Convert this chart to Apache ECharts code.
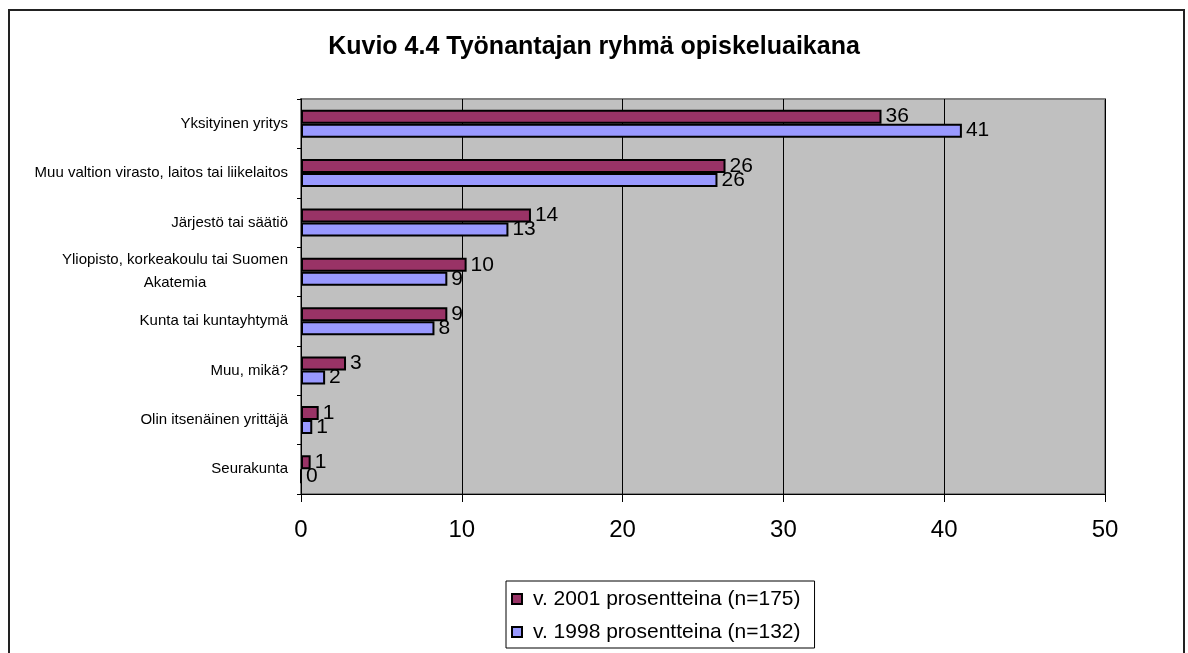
<!DOCTYPE html>
<html lang="fi">
<head>
    <meta charset="UTF-8">
    <title>Kuvio 4.4</title>
    <style>
        html, body { margin: 0; padding: 0; background: #fff; }
        #main { width: 1188px; height: 653px; }
    </style>
</head>
<body>

<div id="main"></div>

<script type="text/javascript" src="https://cdn.jsdelivr.net/npm/echarts@6/dist/echarts.min.js"></script>
<script type="text/javascript">

    // categories top to bottom
    var categories = [
        'Yksityinen yritys',
        'Muu valtion virasto, laitos tai liikelaitos',
        'Järjestö tai säätiö',
        'Yliopisto, korkeakoulu tai Suomen\nAkatemia',
        'Kunta tai kuntayhtymä',
        'Muu, mikä?',
        'Olin itsenäinen yrittäjä',
        'Seurakunta'
    ];
    var seriesNames = ['v. 2001 prosentteina (n=175)', 'v. 1998 prosentteina (n=132)'];
    var values2001 = [36.1, 26.4, 14.3, 10.3, 9.1, 2.8, 1.1, 0.6];
    var values1998 = [41.1, 25.9, 12.9, 9.1, 8.3, 1.5, 0.7, 0];
    var xTicks = [0, 10, 20, 30, 40, 50];

    var font = 'Arial, "Liberation Sans", sans-serif';
    var catFontSize = 15;

    // measure text so the wrapped label lines are centred under the longest one
    var ctx = document.createElement('canvas').getContext('2d');
    ctx.font = catFontSize + 'px ' + font;
    function lineWidth(s) { return Math.ceil(ctx.measureText(s).width); }

    var wrapWidth = 0;
    categories.forEach(function (c) {
        if (c.indexOf('\n') >= 0) {
            c.split('\n').forEach(function (s) { wrapWidth = Math.max(wrapWidth, lineWidth(s)); });
        }
    });

    var chart = echarts.init(document.getElementById('main'));

    function barSeries(name, data, color) {
        return {
            name: name,
            type: 'bar',
            data: data,
            barWidth: 14,
            barGap: '0%',
            itemStyle: { color: color, borderColor: '#000', borderWidth: 2 },
            label: {
                show: true,
                position: 'right',
                distance: 4,
                color: '#000',
                fontFamily: font,
                fontSize: 21,
                formatter: function (p) { return Math.round(p.value); }
            }
        };
    }

    chart.setOption({
        animation: false,
        textStyle: { fontFamily: font },
        title: {
            text: 'Kuvio 4.4 Työnantajan ryhmä opiskeluaikana',
            left: 'center',
            top: 30,
            textStyle: { fontFamily: font, fontSize: 25, fontWeight: 'bold', color: '#000' }
        },
        graphic: [{
            type: 'rect',
            shape: { x: 9, y: 10, width: 1175, height: 660 },
            style: { fill: 'none', stroke: '#222', lineWidth: 2 },
            z: -1
        }],
        legend: {
            orient: 'vertical',
            left: 506,
            top: 581,
            data: seriesNames,
            icon: 'rect',
            itemWidth: 10,
            itemHeight: 10,
            itemGap: 9,
            padding: [6, 14, 4, 5],
            borderColor: '#000',
            borderWidth: 1,
            textStyle: { fontFamily: font, fontSize: 21, color: '#000', lineHeight: 24, padding: [0, 0, 0, 6] }
        },
        grid: {
            left: 301,
            right: 83,
            top: 99,
            bottom: 159,
            show: true,
            backgroundColor: '#c0c0c0',
            borderColor: '#808080',
            borderWidth: 2
        },
        xAxis: {
            type: 'value',
            min: xTicks[0],
            max: xTicks[xTicks.length - 1],
            interval: 10,
            axisLine: { show: true, lineStyle: { color: '#000', width: 1 } },
            axisTick: { show: true, length: 8, lineStyle: { color: '#000' } },
            splitLine: { show: true, lineStyle: { color: '#000', width: 1 } },
            axisLabel: { color: '#000', fontFamily: font, fontSize: 24, margin: 24 }
        },
        yAxis: {
            type: 'category',
            inverse: true,
            data: categories,
            axisLine: { show: true, lineStyle: { color: '#000', width: 1 } },
            axisTick: { show: true, length: 4, lineStyle: { color: '#000' } },
            axisLabel: {
                color: '#000',
                fontFamily: font,
                fontSize: catFontSize,
                margin: 13,
                lineHeight: 23,
                formatter: function (v) {
                    if (v.indexOf('\n') < 0) return v;
                    return v.split('\n').map(function (s) { return '{c|' + s + '}'; }).join('\n');
                },
                rich: {
                    c: { width: wrapWidth, align: 'center', fontSize: catFontSize, lineHeight: 23, color: '#000', fontFamily: font }
                }
            }
        },
        series: [
            barSeries(seriesNames[0], values2001, '#993366'),
            barSeries(seriesNames[1], values1998, '#9999ff')
        ]
    });
</script>
</body>
</html>
